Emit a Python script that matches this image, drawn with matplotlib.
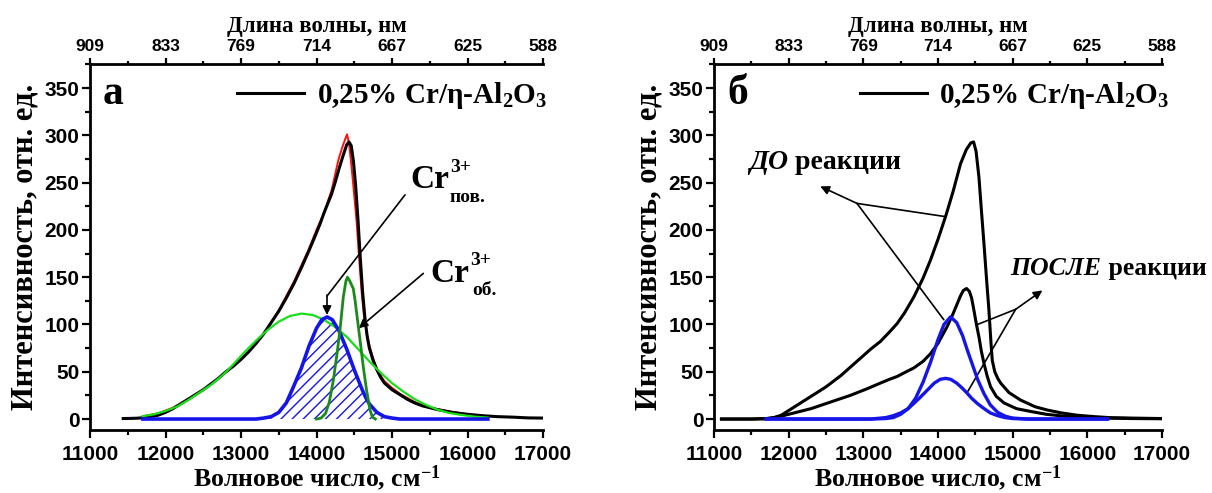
import numpy as np
import matplotlib
matplotlib.use("Agg")
import matplotlib.pyplot as plt
from matplotlib.ticker import MultipleLocator

plt.rcParams['font.family'] = ['Liberation Sans', 'DejaVu Sans']
plt.rcParams['font.weight'] = 'bold'
plt.rcParams['mathtext.fontset'] = 'custom'
plt.rcParams['mathtext.rm'] = 'Liberation Serif:bold'
plt.rcParams['mathtext.it'] = 'Liberation Serif:italic:bold'
plt.rcParams['mathtext.bf'] = 'Liberation Serif:bold'
plt.rcParams['hatch.linewidth'] = 1.0
plt.rcParams['hatch.color'] = '#1515e8'

SERIF = ['Liberation Serif', 'DejaVu Serif']

# ---------------- data ----------------
wn_ticks = [11000, 12000, 13000, 14000, 15000, 16000, 17000]
nm_labels = ['909', '833', '769', '714', '667', '625', '588']
y_ticks = [0, 50, 100, 150, 200, 250, 300, 350]

# panel a: measured spectrum 0.25% Cr/eta-Al2O3 (black)
a_black_x = [11440, 11600, 11750, 11900, 12000, 12100, 12200, 12300, 12400, 12500, 12600,
             12700, 12800, 12900, 13000, 13100, 13200, 13300, 13400, 13500, 13600, 13700,
             13800, 13900, 14000, 14050, 14100, 14150, 14200, 14250, 14300, 14350, 14400,
             14430, 14460, 14490, 14520, 14550, 14580, 14610, 14640, 14670, 14700, 14750,
             14800, 14850, 14900, 15000, 15100, 15200, 15300, 15400, 15500, 15600, 15700,
             15800, 16000, 16200, 16400, 16600, 16800, 17000]
a_black_y = [0.5, 0.8, 1.5, 4, 7, 11, 16, 21, 26, 31, 37,
             43, 50, 56, 63, 71, 80, 90, 102, 114, 128, 143,
             160, 178, 197, 207, 218, 228, 238, 251, 265, 278, 290,
             293, 289, 272, 245, 210, 170, 135, 108, 88, 75, 62,
             52, 44, 38, 31, 26, 21, 17, 14, 12, 10, 8.5,
             7, 5, 3.5, 2.5, 2, 1.2, 1]
# cumulative fit (red)
a_red_x = [11700, 11900, 12100, 12300, 12500, 12700, 12900, 13100, 13300, 13500, 13700,
           13900, 14000, 14100, 14200, 14290, 14340, 14380, 14404, 14430, 14460, 14490,
           14530, 14560, 14600, 14630, 14660, 14700, 14750, 14800, 14850, 14900, 15000,
           15100, 15300, 15500, 15800, 16000, 16270]
a_red_y = [3, 6, 12, 21, 31, 43, 56, 71, 90, 115, 145,
           180, 200, 218, 242, 274, 287, 296, 301, 292, 270, 245,
           210, 175, 132, 108, 93, 78, 64, 53, 46, 40, 33,
           27, 18, 12, 7.5, 5, 3]
# broad component (light green)
a_broad_x = [11700, 11850, 12000, 12150, 12300, 12450, 12600, 12766, 12900, 13050, 13200,
             13350, 13500, 13650, 13803, 13950, 14100, 14250, 14400, 14550, 14700, 14850,
             15000, 15150, 15300, 15450, 15600, 15750, 15900, 16100, 16270]
a_broad_y = [3, 5, 8.5, 13, 20, 28, 36, 47, 58, 71, 83,
             94, 103, 109, 111.5, 110, 105, 97, 87, 74, 61, 49,
             38, 29, 21, 15, 10, 6.5, 4.5, 2.5, 1.5]
# Cr3+ surface component (blue, hatched)
a_surf_x = [11700, 13200, 13300, 13400, 13500, 13600, 13700, 13800, 13900, 14000, 14070,
            14140, 14210, 14300, 14400, 14500, 14600, 14650, 14700, 14800, 14900, 15000,
            15100, 16270]
a_surf_y = [0, 0, 1, 2.5, 7, 17, 35, 54, 77, 96, 105,
            108, 105, 93, 74, 52, 32, 23, 16, 7, 2.5, 1,
            0, 0]
# Cr3+ bulk component (dark green)
a_bulk_x = [14000, 14060, 14120, 14170, 14223, 14270, 14311, 14355, 14390, 14411, 14440,
            14487, 14510, 14532, 14576, 14620, 14664, 14709, 14740, 14780]
a_bulk_y = [0, 1, 6, 18, 41, 68, 94, 129, 146, 150, 146,
            138, 126, 112, 84, 55, 30, 9.5, 2, 0]

# panel b: spectra before / after reaction (black)
b_before_x = [11100, 11500, 11700, 11800, 11900, 12000, 12100, 12200, 12300, 12400, 12500,
              12600, 12700, 12800, 12900, 13000, 13100, 13228, 13350, 13453, 13550, 13676,
              13800, 13899, 14000, 14101, 14200, 14302, 14380, 14440, 14477, 14510, 14548,
              14580, 14615, 14650, 14682, 14710, 14727, 14760, 14800, 14839, 14950, 15107,
              15300, 15465, 15650, 15868, 16100, 16300, 16600, 17000]
b_before_y = [0, 0, 0.5, 1.5, 4, 9, 14, 19, 24, 29, 34,
              40, 46, 53, 60, 67, 74, 82, 92, 101, 112, 129,
              149, 168, 190, 214, 240, 270, 285, 292, 293, 283, 256,
              222, 186, 148, 115, 80, 62, 50, 43, 38, 28, 20,
              13, 9.5, 6.5, 4, 2.5, 1.5, 1, 0.5]
b_after_x = [11100, 11500, 11700, 11850, 12000, 12150, 12300, 12450, 12600, 12826, 13050,
             13228, 13350, 13453, 13550, 13676, 13800, 13899, 14000, 14124, 14200, 14258,
             14300, 14340, 14383, 14420, 14450, 14481, 14515, 14548, 14580, 14615, 14660,
             14705, 14780, 14884, 15050, 15242, 15450, 15690, 15950, 16200, 16600, 17000]
b_after_y = [0, 0, 0.3, 2, 5, 8, 11, 15, 19, 25, 32,
             38, 42, 45, 49, 54, 61, 69, 80, 98, 111, 122,
             130, 136, 138, 135, 128, 115, 100, 87, 72, 59, 45,
             34, 24, 17, 11, 8, 5, 3, 1.8, 1, 0.5, 0.3]
# Cr3+ surface component before / after (blue)
b_surf_before_x = [11700, 13100, 13300, 13400, 13500, 13600, 13700, 13800, 13900, 14000, 14080,
                   14168, 14250, 14330, 14392, 14450, 14530, 14615, 14700, 14800, 14900, 15000,
                   15200, 16270]
b_surf_before_y = [0, 0, 0.5, 1.5, 5, 11, 22, 39, 60, 84, 100,
                   108, 102, 88, 73, 60, 42, 27, 15, 7, 3, 1,
                   0, 0]
b_surf_after_x = [11700, 13100, 13300, 13400, 13500, 13600, 13676, 13750, 13850, 13950, 14030,
                  14101, 14170, 14250, 14320, 14383, 14450, 14526, 14600, 14700, 14800, 14900,
                  15000, 15200, 16270]
b_surf_after_y = [0, 0, 1.5, 3.5, 6.5, 11, 16.5, 22, 30, 38, 42,
                  43, 42, 38, 33, 28, 22, 16.5, 12, 6.5, 3.5, 1.5,
                  0.5, 0, 0]

legend_label = '0,25% Cr/η-Al$_2$O$_3$'

# ---------------- figure ----------------
fig = plt.figure(figsize=(12.12, 4.93), dpi=100)
ax_a = fig.add_axes([90/1212, 1-430/493, 453/1212, 366/493])
ax_b = fig.add_axes([714/1212, 1-430/493, 448/1212, 366/493])

BLUE = '#1515e8'
K = 'black'


def style_axes(ax):
    ax.set_xlim(11000, 17000)
    ax.set_ylim(-11.6, 375.4)
    ax.set_xticks(wn_ticks)
    ax.set_yticks(y_ticks)
    ax.xaxis.set_minor_locator(MultipleLocator(500))
    ax.yaxis.set_minor_locator(MultipleLocator(25))
    for s in ['top', 'right']:
        ax.spines[s].set_visible(False)
    for s in ['left', 'bottom']:
        ax.spines[s].set_linewidth(2)
    ax.tick_params(axis='both', which='major', direction='out', length=6, width=1.6,
                   labelsize=15)
    ax.tick_params(axis='both', which='minor', direction='out', length=3.5, width=1.6)
    ax.tick_params(axis='y', which='major', pad=1.5)
    ax.tick_params(axis='x', which='major', pad=5)
    ax.set_xlabel('Волновое число, см$^{-1}$', family=SERIF, weight='bold', fontsize=18.5,
                  labelpad=-1)
    ax.set_ylabel('Интенсивность, отн. ед.', family=SERIF, weight='bold', fontsize=22,
                  labelpad=4)
    top = ax.twiny()
    top.set_xlim(ax.get_xlim())
    top.set_xticks(wn_ticks)
    top.set_xticklabels(nm_labels)
    top.xaxis.set_minor_locator(MultipleLocator(500))
    for s in ['left', 'right', 'bottom']:
        top.spines[s].set_visible(False)
    top.spines['top'].set_linewidth(2)
    top.tick_params(axis='x', which='major', direction='out', length=4.5, width=1.6,
                    labelsize=12.5, pad=3)
    top.tick_params(axis='x', which='minor', direction='out', length=2.5, width=1.6)
    top.set_xlabel('Длина волны, нм', family=SERIF, weight='bold', fontsize=16.5, labelpad=5)
    return top


def add_legend(ax, handle):
    ax.legend([handle], [legend_label], loc='center left', bbox_to_anchor=(0.325, 0.913),
              frameon=False, borderpad=0, borderaxespad=0, handlelength=2.3,
              handletextpad=0.42,
              prop={'family': SERIF, 'weight': 'bold', 'size': 21})


def arrow(ax, tip, start, head=True):
    ax.annotate('', xy=tip, xytext=start,
                arrowprops=dict(arrowstyle='-|>' if head else '-', color=K, lw=1.2,
                                mutation_scale=13, shrinkA=0, shrinkB=0))


# ---------- panel a ----------
style_axes(ax_a)
ax_a.plot(a_red_x, a_red_y, color='#ff1010', lw=1.4, zorder=2)
h_a, = ax_a.plot(a_black_x, a_black_y, color=K, lw=2.2, zorder=3)
ax_a.fill_between(a_surf_x, 0, a_surf_y, facecolor='none', edgecolor=BLUE, hatch='///',
                  linewidth=0, zorder=3)
ax_a.plot(a_broad_x, a_broad_y, color='#18e018', lw=1.6, zorder=4)
ax_a.plot(a_surf_x, a_surf_y, color=BLUE, lw=2.6, zorder=5)
ax_a.plot(a_bulk_x, a_bulk_y, color='#1a8a1a', lw=2.0, zorder=6)
add_legend(ax_a, h_a)

ax_a.text(11172, 333, 'а', family=SERIF, weight='bold', fontsize=30, ha='left',
          va='baseline')
# Cr3+ surface label + arrow
ax_a.text(15238, 244.3, 'Cr', family=SERIF, weight='bold', fontsize=24, va='baseline')
ax_a.text(15768, 261.2, '3+', family=SERIF, weight='bold', fontsize=14, va='baseline')
ax_a.text(15768, 229.5, 'пов.', family=SERIF, weight='bold', fontsize=14, va='baseline')
arrow(ax_a, (14139, 130), (15172, 237), head=False)
arrow(ax_a, (14139, 110), (14139, 131))
# Cr3+ bulk label + arrow
ax_a.text(15503, 144.9, 'Cr', family=SERIF, weight='bold', fontsize=24, va='baseline')
ax_a.text(16033, 162.8, '3+', family=SERIF, weight='bold', fontsize=14, va='baseline')
ax_a.text(16060, 131.1, 'об.', family=SERIF, weight='bold', fontsize=14, va='baseline')
arrow(ax_a, (14560, 96), (15415, 154))

# ---------- panel b ----------
style_axes(ax_b)
h_b, = ax_b.plot(b_before_x, b_before_y, color=K, lw=2.2, zorder=3)
ax_b.plot(b_after_x, b_after_y, color=K, lw=2.2, zorder=3)
ax_b.plot(b_surf_before_x, b_surf_before_y, color=BLUE, lw=2.4, zorder=4)
ax_b.plot(b_surf_after_x, b_surf_after_y, color=BLUE, lw=2.4, zorder=4)
add_legend(ax_b, h_b)

ax_b.text(11174, 333, 'б', family=SERIF, weight='bold', fontsize=30, ha='left',
          va='baseline')

t1 = ax_b.text(11470, 264.4, 'ДО', family=SERIF, weight='bold', style='italic',
               fontsize=20, va='baseline')
ax_b.annotate(' реакции', xy=(1, 0), xycoords=t1, va='bottom', ha='left',
              family=SERIF, weight='bold', fontsize=20)
t2 = ax_b.text(14973, 152.3, 'ПОСЛЕ', family=SERIF, weight='bold', style='italic',
               fontsize=18.5, va='baseline')
ax_b.annotate(' реакции', xy=(1, 0), xycoords=t2, va='bottom', ha='left',
              family=SERIF, weight='bold', fontsize=18.5)

# ДО arrows
arrow(ax_b, (14101, 214), (12915, 228), head=False)
arrow(ax_b, (14078, 105), (12915, 228), head=False)
arrow(ax_b, (12423, 246), (12915, 228))
# ПОСЛЕ arrows
arrow(ax_b, (14530, 100), (15040, 116), head=False)
arrow(ax_b, (14383, 27), (15040, 116), head=False)
arrow(ax_b, (15398, 136), (15040, 116))

fig.savefig('out.png', dpi=100)
